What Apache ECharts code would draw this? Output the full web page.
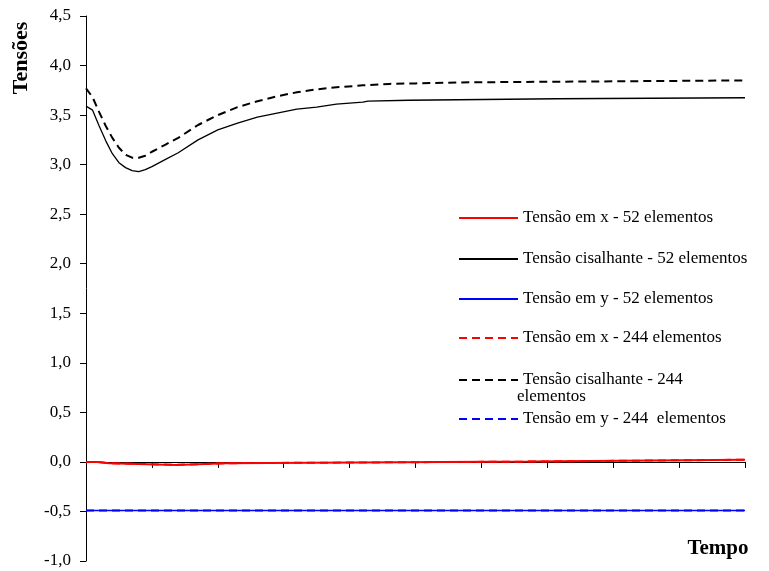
<!DOCTYPE html>
<html>
<head>
<meta charset="utf-8">
<script src="https://cdn.jsdelivr.net/npm/echarts@6/dist/echarts.min.js"></script>
<style>html,body{margin:0;padding:0;background:#fff}#c{width:769px;height:571px}</style>
</head>
<body>
<div id="c"></div>
<script>
const xTicks = [0,10,20,30,40,50,60,70,80,90,100];
const yTicks = [-1,-0.5,0,0.5,1,1.5,2,2.5,3,3.5,4,4.5];

const seriesNames = [
  'Tensão em x - 52 elementos',
  'Tensão cisalhante - 52 elementos',
  'Tensão em y - 52 elementos',
  'Tensão em x - 244 elementos',
  'Tensão cisalhante - 244 elementos',
  'Tensão em y - 244  elementos'
];

const tShear52 = [0,1,2,3,4,5,6,7,8,9,10,12,14,17,20,23,26,29,32,35,38,42,42.8,49,49.3,71.4,71.6,100];
const vShear52 = [3.59,3.55,3.39,3.24,3.11,3.02,2.97,2.94,2.93,2.95,2.98,3.05,3.12,3.25,3.35,3.42,3.48,3.52,3.56,3.58,3.61,3.63,3.64,3.65,3.66,3.665,3.675,3.675];

const tShear244 = [0,1,2,3,4,5,6,7,8,9,10,12,14,17,20,23,26,29,32,35,38,42,46,50,56.7,57,100];
const vShear244 = [3.77,3.68,3.53,3.39,3.27,3.17,3.10,3.07,3.07,3.09,3.13,3.20,3.27,3.40,3.50,3.58,3.64,3.69,3.73,3.76,3.78,3.80,3.815,3.82,3.83,3.85,3.85];

const tX = [0,1.7,1.8,3.5,3.7,13.7,13.9,21.3,21.5,67,67.2,100];
const vX52 = [0,0,-0.013,-0.013,-0.03,-0.03,-0.013,-0.013,0.003,0.003,0.022,0.022];
const vX244 = [0,0,-0.013,-0.013,-0.03,-0.03,-0.013,-0.013,0.003,0.003,0.022,0.022];

const tY = [0,100];
const vY52 = [-0.49,-0.49];
const vY244 = [-0.49,-0.49];

const legendRows = [216,257,297,336,378,417];

function pairs(t, v){ return t.map((x,i)=>[x, v[i]]); }
const fmt = v => v.toFixed(1).replace('.', ',');
const FONT = '"Liberation Serif","Times New Roman",serif';

const styles = [
  {color:'#FF0000', width:2, type:'solid', data: pairs(tX, vX52)},
  {color:'#000000', width:1.3, type:'solid', data: pairs(tShear52, vShear52)},
  {color:'#0000FF', width:1.5, type:'solid', data: pairs(tY, vY52)},
  {color:'#FF0000', width:2, type:[8,5], data: pairs(tX, vX244)},
  {color:'#000000', width:2, type:[8,5], data: pairs(tShear244, vShear244)},
  {color:'#0000FF', width:2, type:[8,5], data: pairs(tY, vY244)}
];

const series = styles.map((s,i)=>({
  name: seriesNames[i],
  type: 'line',
  symbol: 'none',
  animation: false,
  data: s.data,
  lineStyle: {color: s.color, width: s.width, type: s.type},
  itemStyle: {color: s.color},
  z: 3 + i
}));

const legends = seriesNames.map((n,i)=>({
  data: [n],
  left: 453,
  top: legendRows[i] - 12,
  orient: 'vertical',
  itemWidth: 59,
  itemHeight: 18,
  selectedMode: false,
  itemStyle: {opacity: 0},
  lineStyle: {width: 2},
  formatter: i === 4 ? 'Tensão cisalhante - 244' : n,
  textStyle: {fontFamily: FONT, fontSize: 17, color: '#000', lineHeight: 18}
}));

const chart = echarts.init(document.getElementById('c'));
chart.setOption({
  backgroundColor: '#fff',
  animation: false,
  grid: {left: 86, right: 24, top: 16, bottom: 10, outerBoundsMode: 'none'},
  xAxis: {
    type: 'value', min: xTicks[0], max: xTicks[xTicks.length-1], interval: 10,
    axisLine: {onZero: true, lineStyle: {color: '#000', width: 1}},
    axisTick: {show: true, length: 6, lineStyle: {color: '#000'}},
    axisLabel: {formatter: fmt, margin: 20, fontFamily: FONT, fontSize: 17, color: '#000'},
    splitLine: {show: false}
  },
  yAxis: {
    type: 'value', min: yTicks[0], max: yTicks[yTicks.length-1], interval: 0.5,
    axisLine: {show: true, lineStyle: {color: '#000', width: 1}},
    axisTick: {show: true, length: 6, lineStyle: {color: '#000'}},
    axisLabel: {formatter: fmt, margin: 15, fontFamily: FONT, fontSize: 17, color: '#000'},
    splitLine: {show: false}
  },
  legend: legends,
  graphic: [
    {type: 'text', left: 517, top: 388, style: {text: 'elementos', font: '17px ' + FONT, fill: '#000'}},
    {type: 'text', x: 21, y: 58, rotation: Math.PI/2, style: {text: 'Tensões', font: 'bold 22px ' + FONT, fill: '#000', align: 'center', verticalAlign: 'middle'}},
    {type: 'text', x: 718, y: 549, style: {text: 'Tempo', font: 'bold 21px ' + FONT, fill: '#000', align: 'center', verticalAlign: 'middle'}}
  ],
  series: series
});
</script>
</body>
</html>
